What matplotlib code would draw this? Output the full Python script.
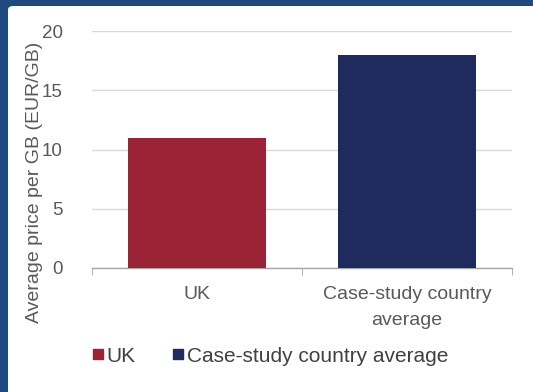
import matplotlib.pyplot as plt
from matplotlib.patches import FancyBboxPatch
from matplotlib.lines import Line2D

plt.rcParams['font.family'] = ['Liberation Sans', 'DejaVu Sans']

categories = ["UK", "Case-study country\naverage"]
legend_labels = ["UK", "Case-study country average"]
values = [11, 18]
colors = ["#9B2336", "#1E2B5C"]
yticks = [0, 5, 10, 15, 20]

fig = plt.figure(figsize=(5.33, 3.92), dpi=100)
fig.patch.set_facecolor("#1F4A80")
# white panel inside the blue frame
fig.patches.append(FancyBboxPatch((8/533, -0.05), 1.0, 1 - 6/392 + 0.05,
                                  boxstyle="round,pad=0,rounding_size=0.01",
                                  transform=fig.transFigure, facecolor="white",
                                  edgecolor="none", zorder=-5))

ax = fig.add_axes([92/533, 1 - 268/392, 420/533, 237/392])
ax.set_facecolor("none")
ax.set_zorder(5)

x = list(range(len(categories)))
ax.bar(x, values, width=0.66, color=colors, zorder=3)

ax.set_xlim(-0.5, 1.5)
ax.set_ylim(0, 20)
ax.set_yticks(yticks)
ax.set_yticklabels([str(t) for t in yticks])
ax.yaxis.grid(True, color="#D9D9D9", linewidth=1, zorder=0)
ax.set_axisbelow(True)

for s in ["top", "right", "left"]:
    ax.spines[s].set_visible(False)
ax.spines["bottom"].set_color("#A6A6A6")
ax.spines["bottom"].set_linewidth(1)

ax.set_xticks(x)
ax.set_xticklabels(categories, fontsize=14, color="#595959", linespacing=1.7)
ax.tick_params(axis="x", length=0, pad=13)
ax.set_xticks([-0.5, 0.5, 1.5], minor=True)
ax.tick_params(axis="x", which="minor", length=5, color="#A6A6A6", direction="out")
ax.tick_params(axis="y", length=0, pad=21, labelsize=13.5, labelcolor="#595959")

ax.set_ylabel("Average price per GB (EUR/GB)", fontsize=14, color="#595959")
ax.yaxis.set_label_coords(-0.117, 0.363)

handles = [Line2D([], [], marker="s", linestyle="none", markersize=6.5,
                  markerfacecolor=c, markeredgecolor=c) for c in colors]
fig.legend(handles, legend_labels, loc="center", ncol=2, frameon=False,
           bbox_to_anchor=(0.5075, 1 - 356/392), fontsize=15, labelcolor="#404040",
           handlelength=0.5, handletextpad=0.15, columnspacing=1.8)

fig.savefig("out.png", dpi=100, facecolor=fig.get_facecolor())
